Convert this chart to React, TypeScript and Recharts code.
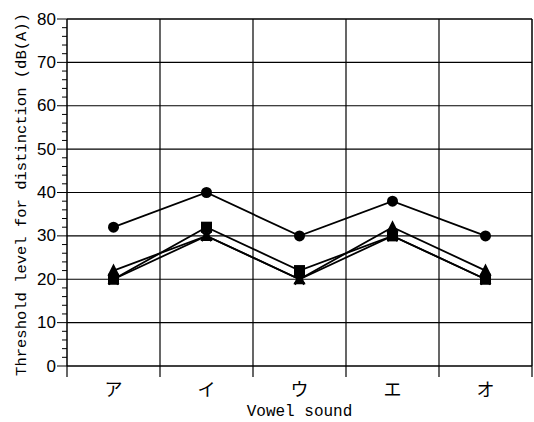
import React from "react";
import {
  LineChart,
  Line,
  XAxis,
  YAxis,
  ReferenceLine,
  Label,
} from "recharts";

const vowels = ["ア", "イ", "ウ", "エ", "オ"];
const circleSeries = [32, 40, 30, 38, 30];
const squareSeries = [20, 32, 22, 30, 20];
const triangleSeries = [22, 30, 20, 32, 22];
const crossSeries = [20, 30, 20, 30, 20];
const yGridValues = [10, 20, 30, 40, 50, 60, 70, 80];
const yMinorTicks = Array.from({ length: 41 }, (_, i) => i * 2);

const data = vowels.map((v, i) => ({
  x: i + 0.5,
  name: v,
  circle: circleSeries[i],
  square: squareSeries[i],
  triangle: triangleSeries[i],
  cross: crossSeries[i],
}));

const xTicks = [0, 0.5, 1, 1.5, 2, 2.5, 3, 3.5, 4, 4.5, 5];

const monoFont = "'Liberation Mono', 'DejaVu Sans Mono', monospace";

function XTick(props: any) {
  const { x, y, payload } = props;
  const v = payload.value;
  if (Number.isInteger(v)) {
    return <line x1={x} y1={y} x2={x} y2={y + 11} stroke="#000" strokeWidth={1.2} />;
  }
  return (
    <text
      x={x}
      y={y + 25}
      textAnchor="middle"
      dominantBaseline="middle"
      fontFamily="'Noto Sans CJK JP', sans-serif"
      fontSize={18}
      fill="#000"
    >
      {vowels[Math.floor(v)]}
    </text>
  );
}

function YTick(props: any) {
  const { x, y, payload } = props;
  const v = payload.value;
  const major = v % 10 === 0;
  return (
    <g>
      <line x1={x} y1={y} x2={x - (major ? 10 : 5)} y2={y} stroke="#000" strokeWidth={1} />
      {major && (
        <text
          x={x - 11}
          y={y}
          textAnchor="end"
          dominantBaseline="central"
          fontFamily="'Liberation Sans', Arial, sans-serif"
          fontSize={17}
          fill="#000"
        >
          {v}
        </text>
      )}
    </g>
  );
}

const dotCircle = (p: any) => (
  <circle key={`c${p.index}`} cx={p.cx} cy={p.cy} r={5.5} fill="#000" />
);
const dotSquare = (p: any) => (
  <rect key={`s${p.index}`} x={p.cx - 5.5} y={p.cy - 5.5} width={11} height={11} fill="#000" />
);
const dotTriangle = (p: any) => (
  <polygon
    key={`t${p.index}`}
    points={`${p.cx},${p.cy - 7} ${p.cx - 6},${p.cy + 5} ${p.cx + 6},${p.cy + 5}`}
    fill="#000"
  />
);
const dotCross = (p: any) => (
  <path
    key={`x${p.index}`}
    d={`M${p.cx - 5},${p.cy - 5}L${p.cx + 5},${p.cy + 5}M${p.cx + 5},${p.cy - 5}L${p.cx - 5},${p.cy + 5}`}
    stroke="#000"
    strokeWidth={2.5}
  />
);

export default function App() {
  return (
    <div style={{ position: "absolute", left: 0, top: 0, background: "#fff" }}>
      <LineChart
        width={534}
        height={422}
        data={data}
        margin={{ top: 19, right: 2, bottom: 16, left: 7 }}
      >
        <XAxis
          dataKey="x"
          type="number"
          domain={[0, 5]}
          ticks={xTicks}
          interval={0}
          tick={<XTick />}
          tickLine={false}
          tickSize={0}
          tickMargin={0}
          height={40}
          axisLine={{ stroke: "#000", strokeWidth: 1.5 }}
        >
          <Label
            content={(p: any) => (
              <text
                x={p.viewBox.x + p.viewBox.width / 2}
                y={416}
                textAnchor="middle"
                fontFamily={monoFont}
                fontSize={16}
                fill="#000"
              >
                Vowel sound
              </text>
            )}
          />
        </XAxis>
        <YAxis
          type="number"
          domain={[0, 80]}
          ticks={yMinorTicks}
          interval={0}
          tick={<YTick />}
          tickLine={false}
          tickSize={0}
          tickMargin={0}
          width={60}
          axisLine={{ stroke: "#000", strokeWidth: 1.5 }}
        >
          <Label
            content={(p: any) => {
              const cx = 22;
              const cy = p.viewBox.y + p.viewBox.height / 2 + 2;
              return (
                <text
                  x={cx}
                  y={cy}
                  transform={`rotate(-90 ${cx} ${cy})`}
                  textAnchor="middle"
                  dominantBaseline="central"
                  fontFamily={monoFont}
                  fontSize={15.5}
                  fill="#000"
                >
                  Threshold level for distinction (dB(A))
                </text>
              );
            }}
          />
        </YAxis>
        {yGridValues.map((v) => (
          <ReferenceLine key={`h${v}`} y={v} stroke="#000" strokeWidth={v === 80 ? 1.5 : 1.2} />
        ))}
        {[1, 2, 3, 4, 5].map((v) => (
          <ReferenceLine key={`v${v}`} x={v} stroke="#000" strokeWidth={v === 5 ? 1.5 : 1.2} />
        ))}
        <Line dataKey="circle" stroke="#000" strokeWidth={1.8} dot={dotCircle} isAnimationActive={false} />
        <Line dataKey="triangle" stroke="#000" strokeWidth={1.8} dot={dotTriangle} isAnimationActive={false} />
        <Line dataKey="cross" stroke="#000" strokeWidth={1.8} dot={dotCross} isAnimationActive={false} />
        <Line dataKey="square" stroke="#000" strokeWidth={1.8} dot={dotSquare} isAnimationActive={false} />
      </LineChart>
    </div>
  );
}
